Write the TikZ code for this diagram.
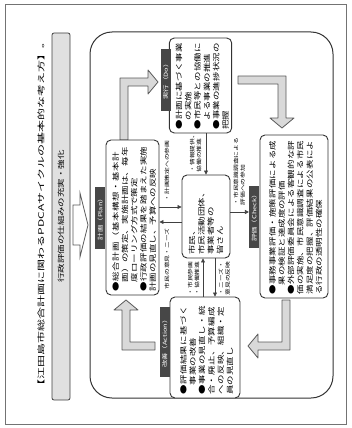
\documentclass[tikz,border=0pt]{standalone}
\usepackage{fontspec}
\newfontfamily\cjk[FakeStretch=1.35]{Noto Sans CJK JP}
\newfontfamily\titlefont[FakeStretch=1.6]{Noto Sans CJK JP}
\XeTeXlinebreaklocale "ja"
\XeTeXlinebreakskip=0pt plus 1pt
\usetikzlibrary{arrows.meta,positioning,calc}

\newcommand{\bitem}[1]{\par\hangindent=1.35em\hangafter=1\noindent ●#1}

\tikzset{
  box/.style={draw=black!80, line width=0.9pt, rounded corners=5pt, fill=white,
    rotate=90, inner sep=3pt, align=left,
    font=\cjk\fontsize{7}{9.3}\selectfont},
  tabbox/.style={fill=black!72, text=white, rotate=90, inner xsep=3pt, inner ysep=2.5pt,
    minimum width=62pt, font=\cjk\fontsize{5.5}{6}\selectfont},
  lbl/.style={rotate=90, align=left, inner sep=0.5pt,
    font=\cjk\fontsize{5}{6.8}\selectfont},
  thinarr/.style={draw=black!75, line width=0.7pt, -{Triangle[length=4pt,width=4pt]}},
  bigarr/.style={draw=black!65, line width=0.8pt, fill=black!15, line join=round},
}

\begin{document}
\begin{tikzpicture}[x=1pt,y=-1pt]
  \useasboundingbox (0,0) rectangle (351,428);
  \draw[black!55, line width=0.6pt] (5,4) rectangle (346,424);

  % heading and bar
  \node[rotate=90, font=\titlefont\fontsize{7.5}{8}\selectfont] (title) at (41,214)
    {【江田島市総合計画に関わるPDCAサイクルの基本的な考え方】。};
  \node[rotate=90, draw=black!75, line width=0.8pt, fill=black!12, rounded corners=2pt,
    minimum width=367pt, minimum height=18pt, font=\cjk\fontsize{7}{8}\selectfont] (bar) at (61,216.5)
    {行政評価の仕組みの充実・強化};
  \draw[black!65, line width=0.8pt, fill=white]
    (73,205) -- (80,205) -- (80,193) -- (88,225) -- (80,257) -- (80,245) -- (73,245) -- cycle;

  % cycle frame
  \draw[black!80, line width=1pt, rounded corners=22pt] (90,32) rectangle (333,398);

  % big cycle arrows
  \draw[bigarr] (120,140) -- (120,78) -- (148,78) -- (148,70) -- (158,82) -- (148,94)
    -- (148,86) -- (128,86) -- (128,140) -- cycle;
  \draw[bigarr] (238,76) -- (286,76) -- (286,118) -- (294,118) -- (282,128) -- (270,118)
    -- (278,118) -- (278,84) -- (238,84) -- cycle;
  \draw[bigarr] (290,300) -- (290,350) -- (258,350) -- (258,358) -- (248,346) -- (258,334)
    -- (258,342) -- (282,342) -- (282,300) -- cycle;
  \draw[bigarr] (155,350) -- (122,350) -- (122,310) -- (114,310) -- (126,300) -- (138,310)
    -- (130,310) -- (130,342) -- (155,342) -- cycle;

  % boxes
  \node[box, minimum width=155pt, minimum height=53pt, text width=148pt] (plan) at (132.5,217.5)
    {\bitem{総合計画（基本構想・基本計画）の策定、実施計画は、毎年度ローリング方式で策定}
     \bitem{行政評価の結果を踏まえた実施計画の見直し、予算への反映}};
  \node[box, minimum width=95pt, minimum height=59pt, text width=88pt] (do) at (200.5,85.5)
    {\bitem{計画に基づく事業の実施}
     \bitem{市民等との協働による事業の推進}
     \bitem{事業の進捗状況の把握}};
  \node[box, minimum width=83pt, minimum height=48pt, text width=76pt] (cen) at (206,216.5)
    {市民、\\市民活動団体、\\事業者等の\\皆さん};
  \node[box, minimum width=163pt, minimum height=68pt, text width=156pt] (check) at (294,216.5)
    {\bitem{事務事業評価・施策評価による成果の検証と達成度の評価}
     \bitem{外部評価委員会による客観的な評価の実施、市民意識調査による市民満足度の把握、評価結果の公表による行政の透明性の確保}};
  \node[box, minimum width=101pt, minimum height=70pt, text width=94pt] (act) at (205,347.5)
    {\bitem{評価結果に基づく事業の改善}
     \bitem{事業の見直し・統合・廃止、予算編成への反映、組織・定員の見直し}};

  % tabs
  \node[tabbox, anchor=south] (plantab) at (plan.north) {計画（Plan）};
  \node[tabbox, anchor=south] (dotab) at (171,80) {実行（Do）};
  \node[tabbox, anchor=south] (checktab) at (check.north) {評価（Check）};
  \node[tabbox, anchor=south, minimum width=70pt] (acttab) at (170,342) {改善（Action）};

  % links with the centre
  \draw[thinarr] (do.west -| cen.east) -- (cen.east);
  \draw[thinarr] (plan.south |- 0,207) -- (cen.north |- 0,207);
  \draw[thinarr] (cen.north |- 0,222) -- (plan.south |- 0,222);
  \draw[thinarr] (cen.south |- 0,212) -- (checktab.north |- 0,212);
  \draw[thinarr] (203,0 |- act.east) -- (203,0 |- cen.west);
  \draw[thinarr] (215,0 |- cen.west) -- (215,0 |- act.east);

  \node[lbl, anchor=south west] (ldo) at (202,173) {・情報提供、\\協働の推進};
  \node[lbl, anchor=west] (lplan) at (167,202) {・計画策定への参画};
  \node[lbl, anchor=east] (lneeds) at (167,228) {市民の意見・ニーズ};
  \node[lbl, anchor=north west] (lcheck) at (233,206) {・市民意識調査による\\評価への参加};
  \node[lbl, anchor=south west] (lact) at (200,296) {・市民参画\\・協働推進};
  \node[lbl, anchor=north west] (lback) at (218,296) {・ニーズ・\\意見の反映};
\end{tikzpicture}
\end{document}
